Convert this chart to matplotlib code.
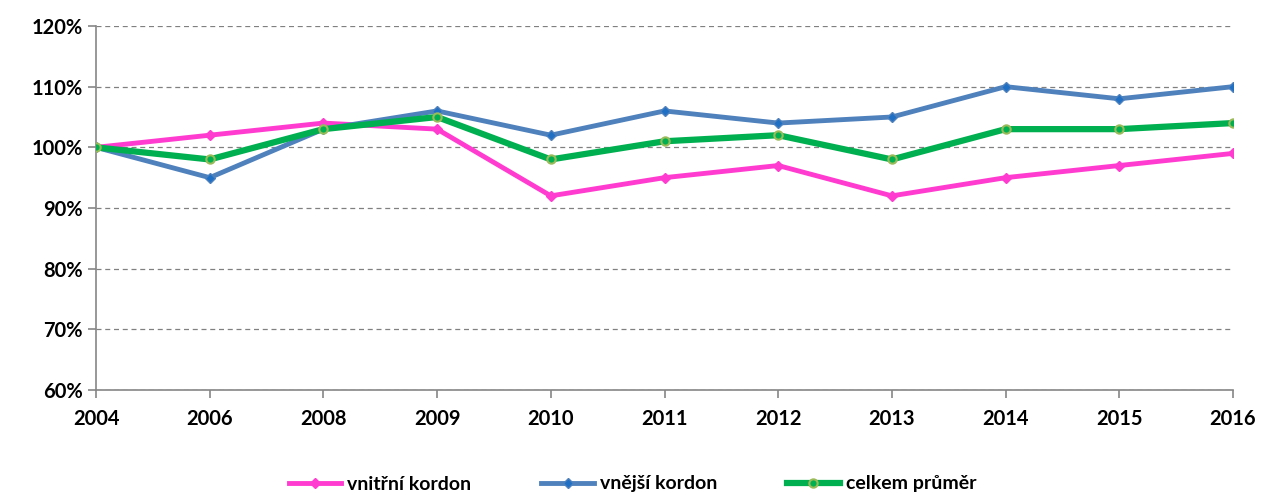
import matplotlib
matplotlib.use('Agg')
import matplotlib.pyplot as plt
from matplotlib.ticker import FuncFormatter

# data
years = ['2004', '2006', '2008', '2009', '2010', '2011', '2012', '2013', '2014', '2015', '2016']
vnitrni = [100, 102, 104, 103, 92, 95, 97, 92, 95, 97, 99]
vnejsi = [100, 95, 103, 106, 102, 106, 104, 105, 110, 108, 110]
celkem = [100, 98, 103, 105, 98, 101, 102, 98, 103, 103, 104]

plt.rcParams['font.family'] = ['Lato', 'DejaVu Sans']

fig = plt.figure(figsize=(12.65, 4.95), dpi=100)
ax = fig.add_axes([96 / 1265, 1 - 390 / 495, (1233 - 96) / 1265, (390 - 26) / 495])

x = list(range(len(years)))
ax.plot(x, vnitrni, color='#FF3CCF', lw=3.5, marker='D', ms=5,
        mfc='#FF3CCF', mec='#FF3CCF', label='vnitřní kordon', zorder=3)
ax.plot(x, vnejsi, color='#4F81BD', lw=3.5, marker='D', ms=5,
        mfc='#1F6FC5', mec='#4F81BD', label='vnější kordon', zorder=3)
ax.plot(x, celkem, color='#00B050', lw=4.5, marker='o', ms=6,
        mfc='#00B050', mec='#9BBB59', mew=1.5, label='celkem průměr', zorder=4)

ax.set_xlim(0, len(years) - 1)
ax.set_ylim(60, 120)
ax.set_xticks(x)
ax.set_xticklabels(years)
ax.set_yticks(range(60, 121, 10))
ax.yaxis.set_major_formatter(FuncFormatter(lambda v, p: '%d%%' % v))

ax.grid(axis='y', color='#808080', ls=(0, (4, 3)), lw=0.9)
ax.set_axisbelow(True)
for s in ['top', 'right']:
    ax.spines[s].set_visible(False)
for s in ['left', 'bottom']:
    ax.spines[s].set_color('#868686')
    ax.spines[s].set_linewidth(1.2)
ax.tick_params(axis='both', colors='#868686', length=6, width=1.2,
               labelcolor='black', labelsize=14.5)
ax.tick_params(axis='x', pad=8)
for lab in ax.get_xticklabels() + ax.get_yticklabels():
    lab.set_fontweight('bold')

leg = fig.legend(loc='center', bbox_to_anchor=(0.5, 1 - 484 / 495), ncol=3,
                 frameon=False, prop={'size': 14, 'weight': 'bold'},
                 handlelength=2.7, columnspacing=3.6, handletextpad=0.3)

fig.savefig('out.png', dpi=100)
